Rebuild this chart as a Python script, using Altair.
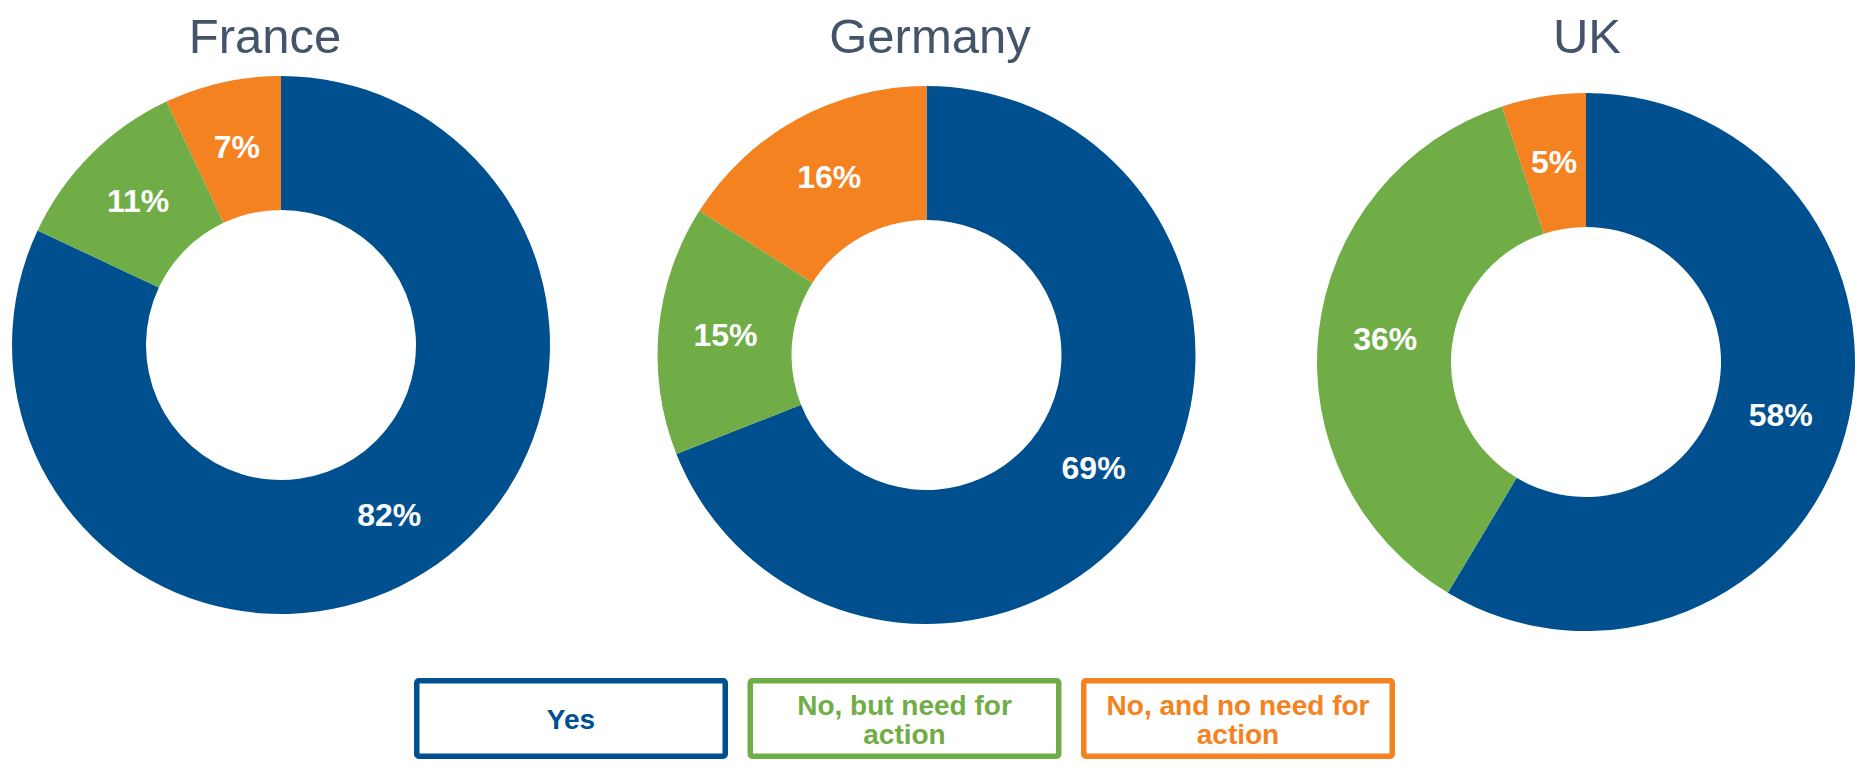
import altair as alt
import pandas as pd

# ---- data ----
countries = ["France", "Germany", "UK"]
categories = ["Yes", "No, but need for action", "No, and no need for action"]
legend_text = ["Yes", "No, but need for\naction", "No, and no need for\naction"]
france_values = [82, 11, 7]
germany_values = [69, 15, 16]
uk_values = [58, 36, 5]
series = [france_values, germany_values, uk_values]

# ---- style ----
colors = ["#00508F", "#70AD47", "#F58220"]
title_color = "#44546A"
FONT = "Liberation Sans"
OUTER_R = 269
INNER_R = 135
LABEL_R = 202

# panel layout: (panel width, arc center x, arc center y, title x)
layout = [
    (546, 273, 337, 257),
    (754, 372.5, 347, 376),
    (547, 278, 354, 279),
]
PANEL_H = 640

color_scale = alt.Scale(domain=categories, range=colors)


def panel(name, values, spec):
    width, cx, cy, tx = spec
    df = pd.DataFrame({
        "category": categories,
        "value": values,
        "idx": list(range(len(categories))),
        "label": [f"{v}%" for v in values],
    })
    base = alt.Chart(df).encode(
        theta=alt.Theta("value:Q", stack=True),
        order=alt.Order("idx:Q", sort="ascending"),
        x=alt.value(cx),
        y=alt.value(cy),
    )
    arcs = base.mark_arc(outerRadius=OUTER_R, innerRadius=INNER_R).encode(
        color=alt.Color("category:N", scale=color_scale, legend=None)
    )
    labels = base.mark_text(
        radius=LABEL_R, font=FONT, fontSize=32, fontWeight="bold",
        color="white", align="center", baseline="middle",
    ).encode(text="label:N")
    title = alt.Chart(pd.DataFrame({"name": [name]})).mark_text(
        font=FONT, fontSize=49, color=title_color, align="center",
        baseline="alphabetic",
    ).encode(text="name:N", x=alt.value(tx), y=alt.value(45))
    return alt.layer(arcs, labels, title).properties(width=width, height=PANEL_H)


top = alt.hconcat(
    *[panel(n, v, s) for n, v, s in zip(countries, series, layout)], spacing=0
).resolve_scale(theta="independent")

leg_df = pd.DataFrame({
    "category": categories,
    "text": legend_text,
    "lines": [t.count("\n") + 1 for t in legend_text],
})
xscale = alt.Scale(domain=categories, range=[408.75, 1384.25],
                   paddingInner=0.075, paddingOuter=0)
boxes = alt.Chart(leg_df).mark_rect(fill="white", strokeWidth=5.5, cornerRadius=2).encode(
    x=alt.X("category:N", scale=xscale, axis=None, sort=categories),
    y=alt.value(2.75),
    y2=alt.value(78.25),
    stroke=alt.Stroke("category:N", scale=color_scale, legend=None),
)
texts = alt.Chart(leg_df).mark_text(
    font=FONT, fontSize=28, fontWeight="bold", lineBreak="\n", lineHeight=29,
    align="center", baseline="middle",
).encode(
    x=alt.X("category:N", scale=xscale, axis=None, sort=categories),
    y=alt.Y("lines:Q", scale=alt.Scale(domain=[1, 2], range=[43, 28.5]), axis=None),
    text="text:N",
    color=alt.Color("category:N", scale=color_scale, legend=None),
)
legend = alt.layer(boxes, texts).properties(width=1847, height=81)

chart = alt.vconcat(top, legend, spacing=30).properties(
    padding=0
).configure_view(stroke=None)

chart.save("out.html", embed_options={"renderer": "svg", "actions": False})
